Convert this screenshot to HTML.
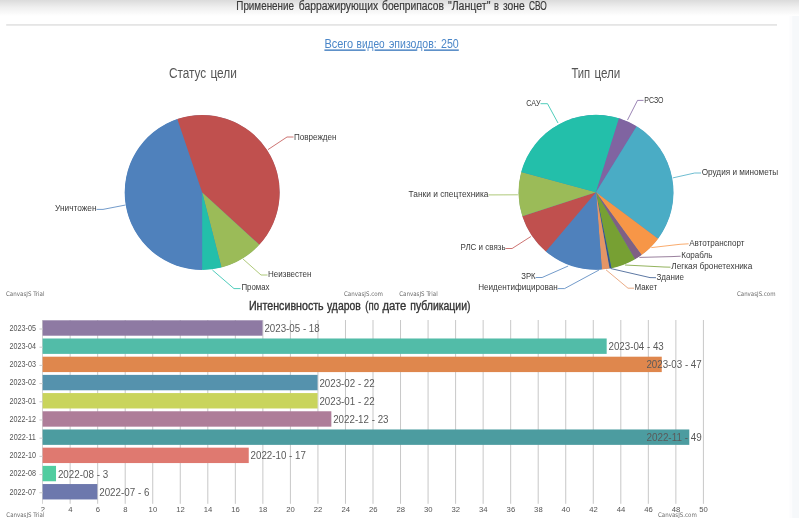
<!DOCTYPE html>
<html lang="ru"><head><meta charset="utf-8"><title>Применение барражирующих боеприпасов "Ланцет" в зоне СВО</title>
<style>html,body{margin:0;padding:0;background:#fff;}body{width:799px;height:518px;overflow:hidden;}svg{display:block;font-family:"Liberation Sans",sans-serif;}</style>
</head><body>
<svg width="799" height="518" viewBox="0 0 799 518">
<defs><linearGradient id="tg" x1="0" y1="0" x2="0" y2="1"><stop offset="0" stop-color="#dbdbdb"/><stop offset="0.45" stop-color="#efefef"/><stop offset="1" stop-color="#ffffff"/></linearGradient></defs>
<rect x="0" y="0" width="799" height="518" fill="#fff"/>
<rect x="789.5" y="0" width="2.7" height="518" fill="#fcfcfd"/>
<rect x="792.2" y="0" width="6.8" height="518" fill="#f6f8fa"/>
<rect x="0" y="0" width="799" height="16" fill="url(#tg)"/>
<rect x="6.2" y="24" width="770.8" height="1.8" fill="#e5e5e5"/>
<text y="9.6" font-size="12.3" fill="#3a3a3a" stroke="#3a3a3a" stroke-width="0.2"><tspan x="236.3" textLength="57.7" lengthAdjust="spacingAndGlyphs">Применение</tspan> <tspan x="298.8" textLength="79.4" lengthAdjust="spacingAndGlyphs">барражирующих</tspan> <tspan x="382.0" textLength="62.0" lengthAdjust="spacingAndGlyphs">боеприпасов</tspan> <tspan x="447.9" textLength="42.5" lengthAdjust="spacingAndGlyphs">&quot;Ланцет&quot;</tspan> <tspan x="494.0" textLength="4.9" lengthAdjust="spacingAndGlyphs">в</tspan> <tspan x="503.0" textLength="21.8" lengthAdjust="spacingAndGlyphs">зоне</tspan> <tspan x="529.0" textLength="17.8" lengthAdjust="spacingAndGlyphs">СВО</tspan></text>
<a href="#episodes">
<text y="48.4" font-size="12" fill="#4a86c8"><tspan x="324.4" textLength="28.8" lengthAdjust="spacingAndGlyphs">Всего</tspan> <tspan x="356.6" textLength="28.1" lengthAdjust="spacingAndGlyphs">видео</tspan> <tspan x="389.0" textLength="47.7" lengthAdjust="spacingAndGlyphs">эпизодов:</tspan> <tspan x="441.0" textLength="17.8" lengthAdjust="spacingAndGlyphs">250</tspan></text>
</a>
<path d="M324.4 50.1H365.6M374.6 50.1H416.4M424 50.1H458.8" stroke="#2a6db8" stroke-width="1.25" fill="none"/>
<text y="78.1" font-size="14" fill="#555"><tspan x="168.9" textLength="37.4" lengthAdjust="spacingAndGlyphs">Статус</tspan> <tspan x="210.4" textLength="26.5" lengthAdjust="spacingAndGlyphs">цели</tspan></text>
<text y="78.1" font-size="14" fill="#555"><tspan x="571.4" textLength="18.8" lengthAdjust="spacingAndGlyphs">Тип</tspan> <tspan x="594.4" textLength="25.9" lengthAdjust="spacingAndGlyphs">цели</tspan></text>
<circle cx="202.2" cy="192.4" r="77.2" fill="#4F81BC"/>
<path d="M202.2 192.4L202.20 269.90A77.5 77.5 0 0 1 177.33 119.00Z" fill="#4F81BC" />
<path d="M202.2 192.4L177.33 119.00A77.5 77.5 0 0 1 259.36 244.74Z" fill="#C0504E" />
<path d="M202.2 192.4L259.36 244.74A77.5 77.5 0 0 1 221.47 267.47Z" fill="#9BBB58" />
<path d="M202.2 192.4L221.47 267.47A77.5 77.5 0 0 1 202.20 269.90Z" fill="#23BFAA" />
<text x="294" y="139.5" font-size="9.1" fill="#3a3a3a" textLength="42.5" lengthAdjust="spacingAndGlyphs">Поврежден</text>
<polyline points="268,149.6 287,137 293.5,137" fill="none" stroke="#C0504E" stroke-width="0.8" stroke-linejoin="round"/>
<text x="55" y="210.5" font-size="9.1" fill="#3a3a3a" textLength="41.5" lengthAdjust="spacingAndGlyphs">Уничтожен</text>
<polyline points="125.6,205 103,209.4 96.5,209.4" fill="none" stroke="#4F81BC" stroke-width="0.8" stroke-linejoin="round"/>
<text x="268" y="276.9" font-size="9.1" fill="#3a3a3a" textLength="43.5" lengthAdjust="spacingAndGlyphs">Неизвестен</text>
<polyline points="243,259 261,275 267.5,275" fill="none" stroke="#9BBB58" stroke-width="0.8" stroke-linejoin="round"/>
<text x="241.4" y="289.9" font-size="9.1" fill="#3a3a3a" textLength="28.1" lengthAdjust="spacingAndGlyphs">Промах</text>
<polyline points="212.4,270 234,288.6 240.5,288.6" fill="none" stroke="#23BFAA" stroke-width="0.8" stroke-linejoin="round"/>
<circle cx="596" cy="192.3" r="77.2" fill="#4F81BC"/>
<path d="M596 192.3L596.00 269.80A77.5 77.5 0 0 1 545.85 251.39Z" fill="#4F81BC" />
<path d="M596 192.3L545.85 251.39A77.5 77.5 0 0 1 522.29 216.25Z" fill="#C0504E" />
<path d="M596 192.3L522.29 216.25A77.5 77.5 0 0 1 521.18 172.08Z" fill="#9BBB58" />
<path d="M596 192.3L521.18 172.08A77.5 77.5 0 0 1 619.02 118.30Z" fill="#23BFAA" />
<path d="M596 192.3L619.02 118.30A77.5 77.5 0 0 1 636.70 126.35Z" fill="#8064A1" />
<path d="M596 192.3L636.70 126.35A77.5 77.5 0 0 1 658.12 238.64Z" fill="#4AACC5" />
<path d="M596 192.3L658.12 238.64A77.5 77.5 0 0 1 641.55 255.00Z" fill="#F79647" />
<path d="M596 192.3L641.55 255.00A77.5 77.5 0 0 1 635.03 259.25Z" fill="#7F6084" />
<path d="M596 192.3L635.03 259.25A77.5 77.5 0 0 1 611.48 268.24Z" fill="#77A033" />
<path d="M596 192.3L611.48 268.24A77.5 77.5 0 0 1 609.56 268.60Z" fill="#33558B" />
<path d="M596 192.3L609.56 268.60A77.5 77.5 0 0 1 601.84 269.58Z" fill="#E59566" />
<path d="M596 192.3L601.84 269.58A77.5 77.5 0 0 1 596.00 269.80Z" fill="#4F81BC" />
<text x="526.3" y="106.1" font-size="9.1" fill="#3a3a3a" textLength="14.2" lengthAdjust="spacingAndGlyphs">САУ</text>
<polyline points="558,123 547.5,103.7 540.5,103.7" fill="none" stroke="#23BFAA" stroke-width="0.8" stroke-linejoin="round"/>
<text x="644.3" y="102.9" font-size="9.1" fill="#3a3a3a" textLength="19.2" lengthAdjust="spacingAndGlyphs">РСЗО</text>
<polyline points="627.5,120 637.5,100.4 643.5,100.4" fill="none" stroke="#8064A1" stroke-width="0.8" stroke-linejoin="round"/>
<text x="701.7" y="175.4" font-size="9.1" fill="#3a3a3a" textLength="76.5" lengthAdjust="spacingAndGlyphs">Орудия и минометы</text>
<polyline points="672.8,177.9 694.7,173 701,173" fill="none" stroke="#4AACC5" stroke-width="0.8" stroke-linejoin="round"/>
<text x="689.2" y="245.8" font-size="9.1" fill="#3a3a3a" textLength="55.2" lengthAdjust="spacingAndGlyphs">Автотранспорт</text>
<polyline points="651.3,247.6 680,244.3 688.6,243.8" fill="none" stroke="#F79647" stroke-width="0.8" stroke-linejoin="round"/>
<text x="681.2" y="257.7" font-size="9.1" fill="#3a3a3a" textLength="31.3" lengthAdjust="spacingAndGlyphs">Корабль</text>
<polyline points="639.4,257.4 672,256.6 680.6,256.2" fill="none" stroke="#7F6084" stroke-width="0.8" stroke-linejoin="round"/>
<text x="671.2" y="269.0" font-size="9.1" fill="#3a3a3a" textLength="81.1" lengthAdjust="spacingAndGlyphs">Легкая бронетехника</text>
<polyline points="625,265 664,267 670.5,267.2" fill="none" stroke="#77A033" stroke-width="0.8" stroke-linejoin="round"/>
<text x="656.5" y="279.7" font-size="9.1" fill="#3a3a3a" textLength="27.4" lengthAdjust="spacingAndGlyphs">Здание</text>
<polyline points="611,268.6 650,277.6 656,277.7" fill="none" stroke="#33558B" stroke-width="0.8" stroke-linejoin="round"/>
<text x="634.4" y="290.1" font-size="9.1" fill="#3a3a3a" textLength="22.7" lengthAdjust="spacingAndGlyphs">Макет</text>
<polyline points="606,269.8 628,288.2 634,288.2" fill="none" stroke="#E59566" stroke-width="0.8" stroke-linejoin="round"/>
<text x="478.2" y="290.4" font-size="9.1" fill="#3a3a3a" textLength="79.5" lengthAdjust="spacingAndGlyphs">Неидентифицирован</text>
<polyline points="599,270 564.5,288.6 557.7,288.6" fill="none" stroke="#4F81BC" stroke-width="0.8" stroke-linejoin="round"/>
<text x="521.3" y="279.4" font-size="9.1" fill="#3a3a3a" textLength="14.3" lengthAdjust="spacingAndGlyphs">ЗРК</text>
<polyline points="568.2,266 542.1,277.5 535.6,277.5" fill="none" stroke="#4F81BC" stroke-width="0.8" stroke-linejoin="round"/>
<text x="460.5" y="250.2" font-size="9.1" fill="#3a3a3a" textLength="45.1" lengthAdjust="spacingAndGlyphs">РЛС и связь</text>
<polyline points="530.9,236.5 512.1,248.5 505.6,248.5" fill="none" stroke="#C0504E" stroke-width="0.8" stroke-linejoin="round"/>
<text x="408.6" y="196.8" font-size="9.1" fill="#3a3a3a" textLength="79.8" lengthAdjust="spacingAndGlyphs">Танки и спецтехника</text>
<polyline points="517.9,194.8 495,194.9 488.5,194.9" fill="none" stroke="#9BBB58" stroke-width="0.8" stroke-linejoin="round"/>
<text x="6" y="295.8" font-size="6.3" fill="#6b6b6b" textLength="38.5" lengthAdjust="spacingAndGlyphs" font-family="DejaVu Sans, sans-serif">CanvasJS Trial</text>
<text x="344" y="295.8" font-size="6.3" fill="#6b6b6b" textLength="39" lengthAdjust="spacingAndGlyphs" font-family="DejaVu Sans, sans-serif">CanvasJS.com</text>
<text x="399.2" y="295.8" font-size="6.3" fill="#6b6b6b" textLength="38.5" lengthAdjust="spacingAndGlyphs" font-family="DejaVu Sans, sans-serif">CanvasJS Trial</text>
<text x="737" y="295.8" font-size="6.3" fill="#6b6b6b" textLength="38.5" lengthAdjust="spacingAndGlyphs" font-family="DejaVu Sans, sans-serif">CanvasJS.com</text>
<text y="309.8" font-size="12.3" fill="#333" stroke="#333" stroke-width="0.35"><tspan x="248.9" textLength="74.8" lengthAdjust="spacingAndGlyphs">Интенсивность</tspan> <tspan x="327.0" textLength="33.7" lengthAdjust="spacingAndGlyphs">ударов</tspan> <tspan x="365.3" textLength="13.7" lengthAdjust="spacingAndGlyphs">(по</tspan> <tspan x="382.4" textLength="23.8" lengthAdjust="spacingAndGlyphs">дате</tspan> <tspan x="410.3" textLength="60.2" lengthAdjust="spacingAndGlyphs">публикации)</tspan></text>
<rect x="42.00" y="320" width="1" height="183.8" fill="#d4d4d4"/>
<rect x="69.63" y="320" width="1" height="183.8" fill="#c8c8c8"/>
<rect x="97.17" y="320" width="1" height="183.8" fill="#c8c8c8"/>
<rect x="124.70" y="320" width="1" height="183.8" fill="#c8c8c8"/>
<rect x="152.23" y="320" width="1" height="183.8" fill="#c8c8c8"/>
<rect x="179.77" y="320" width="1" height="183.8" fill="#c8c8c8"/>
<rect x="207.30" y="320" width="1" height="183.8" fill="#c8c8c8"/>
<rect x="234.83" y="320" width="1" height="183.8" fill="#c8c8c8"/>
<rect x="262.37" y="320" width="1" height="183.8" fill="#c8c8c8"/>
<rect x="289.90" y="320" width="1" height="183.8" fill="#c8c8c8"/>
<rect x="317.43" y="320" width="1" height="183.8" fill="#c8c8c8"/>
<rect x="344.97" y="320" width="1" height="183.8" fill="#c8c8c8"/>
<rect x="372.50" y="320" width="1" height="183.8" fill="#c8c8c8"/>
<rect x="400.03" y="320" width="1" height="183.8" fill="#c8c8c8"/>
<rect x="427.57" y="320" width="1" height="183.8" fill="#c8c8c8"/>
<rect x="455.10" y="320" width="1" height="183.8" fill="#c8c8c8"/>
<rect x="482.63" y="320" width="1" height="183.8" fill="#c8c8c8"/>
<rect x="510.17" y="320" width="1" height="183.8" fill="#c8c8c8"/>
<rect x="537.70" y="320" width="1" height="183.8" fill="#c8c8c8"/>
<rect x="565.23" y="320" width="1" height="183.8" fill="#c8c8c8"/>
<rect x="592.77" y="320" width="1" height="183.8" fill="#c8c8c8"/>
<rect x="620.30" y="320" width="1" height="183.8" fill="#c8c8c8"/>
<rect x="647.83" y="320" width="1" height="183.8" fill="#c8c8c8"/>
<rect x="675.37" y="320" width="1" height="183.8" fill="#c8c8c8"/>
<rect x="702.90" y="320" width="1" height="183.8" fill="#c8c8c8"/>
<text x="42.8" y="512.2" font-size="7.7" fill="#555" text-anchor="middle">2</text>
<text x="70.3" y="512.2" font-size="7.7" fill="#555" text-anchor="middle">4</text>
<text x="97.9" y="512.2" font-size="7.7" fill="#555" text-anchor="middle">6</text>
<text x="125.4" y="512.2" font-size="7.7" fill="#555" text-anchor="middle">8</text>
<text x="152.9" y="512.2" font-size="7.7" fill="#555" text-anchor="middle">10</text>
<text x="180.5" y="512.2" font-size="7.7" fill="#555" text-anchor="middle">12</text>
<text x="208.0" y="512.2" font-size="7.7" fill="#555" text-anchor="middle">14</text>
<text x="235.5" y="512.2" font-size="7.7" fill="#555" text-anchor="middle">16</text>
<text x="263.1" y="512.2" font-size="7.7" fill="#555" text-anchor="middle">18</text>
<text x="290.6" y="512.2" font-size="7.7" fill="#555" text-anchor="middle">20</text>
<text x="318.1" y="512.2" font-size="7.7" fill="#555" text-anchor="middle">22</text>
<text x="345.7" y="512.2" font-size="7.7" fill="#555" text-anchor="middle">24</text>
<text x="373.2" y="512.2" font-size="7.7" fill="#555" text-anchor="middle">26</text>
<text x="400.7" y="512.2" font-size="7.7" fill="#555" text-anchor="middle">28</text>
<text x="428.3" y="512.2" font-size="7.7" fill="#555" text-anchor="middle">30</text>
<text x="455.8" y="512.2" font-size="7.7" fill="#555" text-anchor="middle">32</text>
<text x="483.3" y="512.2" font-size="7.7" fill="#555" text-anchor="middle">34</text>
<text x="510.9" y="512.2" font-size="7.7" fill="#555" text-anchor="middle">36</text>
<text x="538.4" y="512.2" font-size="7.7" fill="#555" text-anchor="middle">38</text>
<text x="565.9" y="512.2" font-size="7.7" fill="#555" text-anchor="middle">40</text>
<text x="593.5" y="512.2" font-size="7.7" fill="#555" text-anchor="middle">42</text>
<text x="621.0" y="512.2" font-size="7.7" fill="#555" text-anchor="middle">44</text>
<text x="648.5" y="512.2" font-size="7.7" fill="#555" text-anchor="middle">46</text>
<text x="676.1" y="512.2" font-size="7.7" fill="#555" text-anchor="middle">48</text>
<text x="703.6" y="512.2" font-size="7.7" fill="#555" text-anchor="middle">50</text>
<rect x="42.6" y="484.05" width="54.72" height="15.4" fill="#6D78AD"/>
<rect x="39.4" y="492.25" width="3.2" height="1" fill="#cacaca"/>
<text x="9.6" y="494.6" font-size="8.4" fill="#555" textLength="26.3" lengthAdjust="spacingAndGlyphs">2022-07</text>
<text x="99.2" y="495.8" font-size="10.2" fill="#5a5a5a" textLength="50.2" lengthAdjust="spacingAndGlyphs">2022-07 - 6</text>
<rect x="42.6" y="465.86" width="13.42" height="15.4" fill="#51CDA0"/>
<rect x="39.4" y="474.06" width="3.2" height="1" fill="#cacaca"/>
<text x="9.6" y="476.4" font-size="8.4" fill="#555" textLength="26.3" lengthAdjust="spacingAndGlyphs">2022-08</text>
<text x="57.9" y="477.6" font-size="10.2" fill="#5a5a5a" textLength="50.2" lengthAdjust="spacingAndGlyphs">2022-08 - 3</text>
<rect x="42.6" y="447.66" width="206.15" height="15.4" fill="#DF7970"/>
<rect x="39.4" y="455.86" width="3.2" height="1" fill="#cacaca"/>
<text x="9.6" y="458.2" font-size="8.4" fill="#555" textLength="26.3" lengthAdjust="spacingAndGlyphs">2022-10</text>
<text x="250.6" y="459.4" font-size="10.2" fill="#5a5a5a" textLength="55.3" lengthAdjust="spacingAndGlyphs">2022-10 - 17</text>
<rect x="42.6" y="429.47" width="646.68" height="15.4" fill="#4C9CA0"/>
<rect x="39.4" y="437.67" width="3.2" height="1" fill="#cacaca"/>
<text x="9.6" y="440.0" font-size="8.4" fill="#555" textLength="26.3" lengthAdjust="spacingAndGlyphs">2022-11</text>
<text x="646.4" y="441.2" font-size="10.2" fill="#5a5a5a" textLength="55.3" lengthAdjust="spacingAndGlyphs">2022-11 - 49</text>
<rect x="42.6" y="411.27" width="288.75" height="15.4" fill="#AE7D99"/>
<rect x="39.4" y="419.47" width="3.2" height="1" fill="#cacaca"/>
<text x="9.6" y="421.8" font-size="8.4" fill="#555" textLength="26.3" lengthAdjust="spacingAndGlyphs">2022-12</text>
<text x="333.2" y="423.0" font-size="10.2" fill="#5a5a5a" textLength="55.3" lengthAdjust="spacingAndGlyphs">2022-12 - 23</text>
<rect x="42.6" y="393.08" width="274.98" height="15.4" fill="#C9D45C"/>
<rect x="39.4" y="401.28" width="3.2" height="1" fill="#cacaca"/>
<text x="9.6" y="403.6" font-size="8.4" fill="#555" textLength="26.3" lengthAdjust="spacingAndGlyphs">2023-01</text>
<text x="319.4" y="404.8" font-size="10.2" fill="#5a5a5a" textLength="55.3" lengthAdjust="spacingAndGlyphs">2023-01 - 22</text>
<rect x="42.6" y="374.88" width="274.98" height="15.4" fill="#5592AD"/>
<rect x="39.4" y="383.08" width="3.2" height="1" fill="#cacaca"/>
<text x="9.6" y="385.4" font-size="8.4" fill="#555" textLength="26.3" lengthAdjust="spacingAndGlyphs">2023-02</text>
<text x="319.4" y="386.6" font-size="10.2" fill="#5a5a5a" textLength="55.3" lengthAdjust="spacingAndGlyphs">2023-02 - 22</text>
<rect x="42.6" y="356.69" width="619.15" height="15.4" fill="#DF874D"/>
<rect x="39.4" y="364.89" width="3.2" height="1" fill="#cacaca"/>
<text x="9.6" y="367.2" font-size="8.4" fill="#555" textLength="26.3" lengthAdjust="spacingAndGlyphs">2023-03</text>
<text x="646.4" y="368.4" font-size="10.2" fill="#5a5a5a" textLength="55.3" lengthAdjust="spacingAndGlyphs">2023-03 - 47</text>
<rect x="42.6" y="338.49" width="564.08" height="15.4" fill="#52BCA8"/>
<rect x="39.4" y="346.69" width="3.2" height="1" fill="#cacaca"/>
<text x="9.6" y="349.0" font-size="8.4" fill="#555" textLength="26.3" lengthAdjust="spacingAndGlyphs">2023-04</text>
<text x="608.5" y="350.2" font-size="10.2" fill="#5a5a5a" textLength="55.3" lengthAdjust="spacingAndGlyphs">2023-04 - 43</text>
<rect x="42.6" y="320.30" width="219.92" height="15.4" fill="#8E7AA3"/>
<rect x="39.4" y="328.50" width="3.2" height="1" fill="#cacaca"/>
<text x="9.6" y="330.8" font-size="8.4" fill="#555" textLength="26.3" lengthAdjust="spacingAndGlyphs">2023-05</text>
<text x="264.4" y="332.0" font-size="10.2" fill="#5a5a5a" textLength="55.3" lengthAdjust="spacingAndGlyphs">2023-05 - 18</text>
<rect x="5" y="511.2" width="41" height="7" fill="#fff"/>
<text x="6.3" y="516.6" font-size="6.3" fill="#6b6b6b" textLength="38.2" lengthAdjust="spacingAndGlyphs" font-family="DejaVu Sans, sans-serif">CanvasJS Trial</text>
<text x="658" y="516.8" font-size="6.3" fill="#6b6b6b" textLength="38.8" lengthAdjust="spacingAndGlyphs" font-family="DejaVu Sans, sans-serif">CanvasJS.com</text>
</svg></body></html>
